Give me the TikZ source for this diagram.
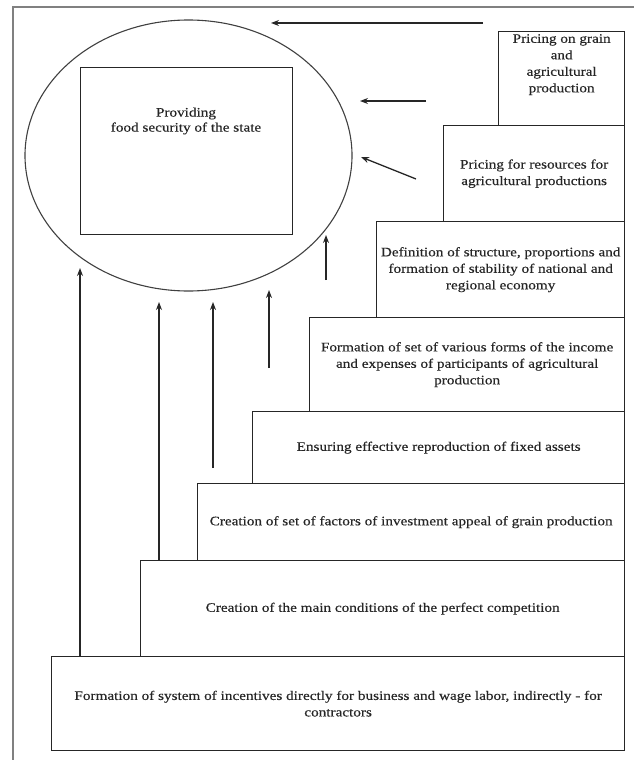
\documentclass[tikz,border=0pt]{standalone}
\usepackage{fontspec}
\setmainfont[FakeStretch=1.17,FakeBold=0.4]{Liberation Serif}
\usetikzlibrary{shapes.geometric,arrows.meta}
\begin{document}
\begin{tikzpicture}[x=1pt,y=-1pt,
  stepbox/.style={draw=black!85, line width=1.3pt, anchor=north west, inner sep=0pt,
    align=center, font=\fontsize{13}{16.5}\selectfont, text=black!85},
  txt/.style={align=center, font=\fontsize{13}{16.5}\selectfont, text=black!85, inner sep=0pt},
  arr/.style={draw=black!85, line width=1.3pt, -{Stealth[length=8pt,width=6pt]}}]
\useasboundingbox (0,0) rectangle (634,760);

% open frame along the left and top
\draw[black!50, line width=1.3pt] (13,760) -- (13,7) -- (634,7);

% goal: ellipse with inner square
\node[ellipse, draw=black!75, line width=1.1pt, minimum width=327pt, minimum height=271pt, inner sep=0pt]
  (goal) at (188.5,155.5) {};
\node[draw=black!85, line width=1.3pt, minimum width=212pt, minimum height=167pt, anchor=north west, inner sep=0pt]
  (core) at (80,67) {};
\node[txt, font=\fontsize{13}{15}\selectfont] (coretext) at (186,121) {Providing\\food security of the state};

% staircase of factors
\node[stepbox, minimum width=126pt, minimum height=94pt] (b1) at (498,31) {};
\node[txt, anchor=north] (b1text) at ([yshift=-3pt]b1.north) {Pricing on grain\\and\\agricultural\\production};
\node[stepbox, minimum width=181pt, minimum height=96pt] (b2) at (443,125)
  {Pricing for resources for\\agricultural productions};
\node[stepbox, minimum width=248pt, minimum height=96pt] (b3) at (376,221)
  {Definition of structure, proportions and\\formation of stability of national and\\regional economy};
\node[stepbox, minimum width=315pt, minimum height=94pt] (b4) at (309,317)
  {Formation of set of various forms of the income\\and expenses of participants of agricultural\\production};
\node[stepbox, minimum width=372pt, minimum height=72pt] (b5) at (252,411)
  {Ensuring effective reproduction of fixed assets};
\node[stepbox, minimum width=427pt, minimum height=77pt] (b6) at (197,483)
  {Creation of set of factors of investment appeal of grain production};
\node[stepbox, minimum width=484pt, minimum height=96pt] (b7) at (140,560)
  {Creation of the main conditions of the perfect competition};
\node[stepbox, minimum width=573pt, minimum height=94pt] (b8) at (51,656)
  {Formation of system of incentives directly for business and wage labor, indirectly - for\\contractors};

% arrow end points
\coordinate (a1s) at (483,23);  \coordinate (a1e) at (271,23);
\coordinate (a2s) at (426,101); \coordinate (a2e) at (360,101);
\coordinate (a3s) at (416,179); \coordinate (a3e) at (361,157);
\coordinate (a4s) at (326,280); \coordinate (a4e) at (326,235);
\coordinate (a5s) at (269,368); \coordinate (a5e) at (269,290);
\coordinate (a6s) at (213,468); \coordinate (a6e) at (213,302);
\coordinate (a7s) at (159,560); \coordinate (a7e) at (159,302);
\coordinate (a8s) at (80,656);  \coordinate (a8e) at (80,268);

\draw[arr] (a1s) -- (a1e);
\draw[arr] (a2s) -- (a2e);
\draw[arr] (a3s) -- (a3e);
\draw[arr] (a4s) -- (a4e);
\draw[arr] (a5s) -- (a5e);
\draw[arr] (a6s) -- (a6e);
\draw[arr] (a7s) -- (a7e);
\draw[arr] (a8s) -- (a8e);
\end{tikzpicture}
\end{document}
